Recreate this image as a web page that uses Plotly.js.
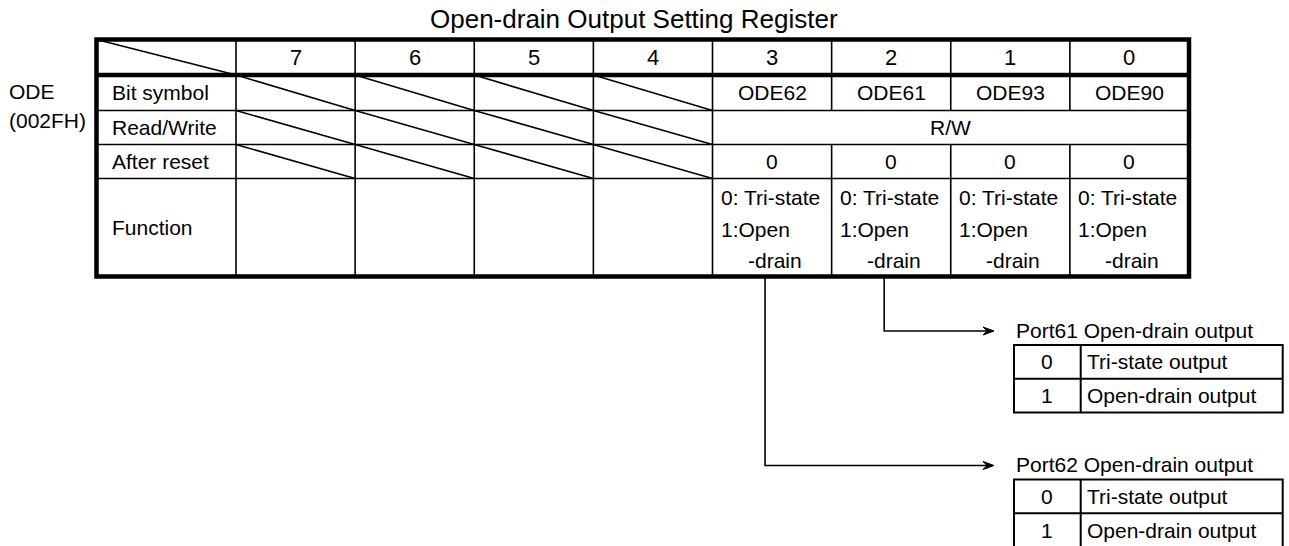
<!DOCTYPE html>
<html>
<head>
<meta charset="utf-8">
<script src="https://cdn.plot.ly/plotly-3.0.1.min.js"></script>
<style>
  html, body { margin: 0; padding: 0; background: #ffffff; overflow: hidden; }
  #chart { width: 1289px; height: 546px; }
</style>
</head>
<body>
<div id="chart"></div>
<script>
// ---------------- data ----------------
const chartTitle = 'Open-drain Output Setting Register';
const registerName = ['ODE', '(002FH)'];
const bitNumbers = ['7', '6', '5', '4', '3', '2', '1', '0'];
const rowLabels = ['Bit symbol', 'Read/Write', 'After reset', 'Function'];
const bitSymbols = ['', '', '', '', 'ODE62', 'ODE61', 'ODE93', 'ODE90'];
const accessRight = 'R/W';
const resetValues = ['', '', '', '', '0', '0', '0', '0'];
const functionLines = ['0: Tri-state', '1:Open', '-drain'];
const portTitles = ['Port61 Open-drain output', 'Port62 Open-drain output'];
const portBits = ['2', '3'];
const settingValues = ['0', '1'];
const settingMeanings = ['Tri-state output', 'Open-drain output'];

// ---------------- layout geometry ----------------
const W = 1289, H = 546;
const FONT = 'Arial, "Liberation Sans", sans-serif';
const tblL = 96.5, lblR = 236, tblR = 1189;
const cellW = (tblR - lblR) / bitNumbers.length;
const rowY = [39.5, 75, 110.5, 144.5, 178.5, 276.5];
const colL = i => lblR + i * cellW;
const colC = i => lblR + (i + 0.5) * cellW;
const rowC = r => (rowY[r] + rowY[r + 1]) / 2;

const thin = { color: '#000', width: 1.6 };
const thick = { color: '#000', width: 4.5 };
const shapes = [];
const ann = [];

function line(x0, y0, x1, y1, style) {
  shapes.push({ type: 'line', xref: 'x', yref: 'y', x0, y0, x1, y1, line: style, layer: 'above' });
}
function text(t, x, y, size, anchor) {
  ann.push({ text: t, x, y, xref: 'x', yref: 'y', showarrow: false,
    xanchor: anchor || 'center', yanchor: 'middle',
    font: { family: FONT, size: size, color: '#000' } });
}

// title and register name
text(chartTitle, 634, 19, 26);
text(registerName[0], 7, 91, 21, 'left');
text(registerName[1], 7, 120, 21, 'left');

// horizontal row lines
for (let r = 2; r <= 4; r++) line(tblL, rowY[r], tblR, rowY[r], thin);
// vertical lines
line(lblR, rowY[0], lblR, rowY[5], thin);
const rw = 2; // Read/Write row index in rowY terms (row between rowY[2] and rowY[3])
bitNumbers.forEach((b, i) => {
  if (i === 0) return;
  const x = colL(i);
  const merged = bitSymbols[i] !== '' && bitSymbols[i - 1] !== '';
  if (merged) {
    line(x, rowY[0], x, rowY[2], thin);
    line(x, rowY[3], x, rowY[5], thin);
  } else {
    line(x, rowY[0], x, rowY[5], thin);
  }
});
// header diagonal
line(tblL, rowY[0], lblR, rowY[1], thin);
// reserved bit diagonals
bitNumbers.forEach((b, i) => {
  if (bitSymbols[i] !== '') return;
  for (let r = 1; r <= 3; r++) line(colL(i), rowY[r], colL(i + 1), rowY[r + 1], thin);
});
// thick header divider and border
line(tblL, rowY[1], tblR, rowY[1], thick);
shapes.push({ type: 'rect', xref: 'x', yref: 'y', x0: tblL, y0: rowY[0], x1: tblR, y1: rowY[5],
  line: thick, fillcolor: 'rgba(0,0,0,0)', layer: 'above' });

// header numbers
bitNumbers.forEach((b, i) => text(b, colC(i), rowC(0), 22));
// row labels
rowLabels.forEach((lab, r) => text(lab, 110, rowC(r + 1), 21, 'left'));
// bit symbols
bitSymbols.forEach((s, i) => { if (s) text(s, colC(i), rowC(1), 21); });
// access
const accIdx = bitSymbols.map((s, i) => s ? i : -1).filter(i => i >= 0);
text(accessRight, (colL(accIdx[0]) + colL(accIdx[accIdx.length - 1] + 1)) / 2, rowC(2), 21);
// reset values
resetValues.forEach((v, i) => { if (v) text(v, colC(i), rowC(3), 21); });
// function text
const fnOffsets = [[6, 18.5], [6, 50.5], [33, 81.5]];
bitSymbols.forEach((s, i) => {
  if (!s) return;
  functionLines.forEach((t, k) => text(t, colL(i) + fnOffsets[k][0], rowY[4] + fnOffsets[k][1], 21, 'left'));
});

// connectors and port tables
const arrowY = [331, 465.5];
const subTop = [345, 479.5];
const subRowH = 33.8;
const subL = 1014, subMid = 1080.7, subR = 1282.7;
const tipX = 994;
portTitles.forEach((pt, p) => {
  const i = bitNumbers.indexOf(portBits[p]);
  const x = colC(i) - 7;
  const y = arrowY[p];
  shapes.push({ type: 'path', xref: 'x', yref: 'y',
    path: `M ${x} ${rowY[5]} L ${x} ${y} L ${tipX - 6} ${y}`, line: { color: '#000', width: 1.6 } });
  shapes.push({ type: 'path', xref: 'x', yref: 'y',
    path: `M ${tipX} ${y} L ${tipX - 11} ${y - 4} L ${tipX - 7} ${y} L ${tipX - 11} ${y + 4} Z`,
    line: { color: '#000', width: 1 }, fillcolor: '#000' });
  text(pt, subL, y - 1, 21, 'left');
  const t0 = subTop[p];
  const t2 = t0 + subRowH * settingValues.length;
  const tb = { color: '#000', width: 2 };
  shapes.push({ type: 'rect', xref: 'x', yref: 'y', x0: subL, y0: t0, x1: subR, y1: t2,
    line: tb, fillcolor: 'rgba(0,0,0,0)' });
  line(subMid, t0, subMid, t2, tb);
  settingValues.forEach((v, k) => {
    const yc = t0 + subRowH * (k + 0.5);
    if (k > 0) line(subL, t0 + subRowH * k, subR, t0 + subRowH * k, tb);
    text(v, (subL + subMid) / 2, yc, 21);
    text(settingMeanings[k], subMid + 4, yc, 21, 'left');
  });
});

const layout = {
  width: W, height: H, autosize: false,
  margin: { l: 0, r: 0, t: 0, b: 0, pad: 0 },
  paper_bgcolor: '#ffffff', plot_bgcolor: '#ffffff',
  showlegend: false,
  xaxis: { range: [0, W], visible: false, fixedrange: true },
  yaxis: { range: [H, 0], visible: false, fixedrange: true },
  shapes: shapes,
  annotations: ann
};
Plotly.newPlot('chart', [], layout, { staticPlot: true, displayModeBar: false });
</script>
</body>
</html>
